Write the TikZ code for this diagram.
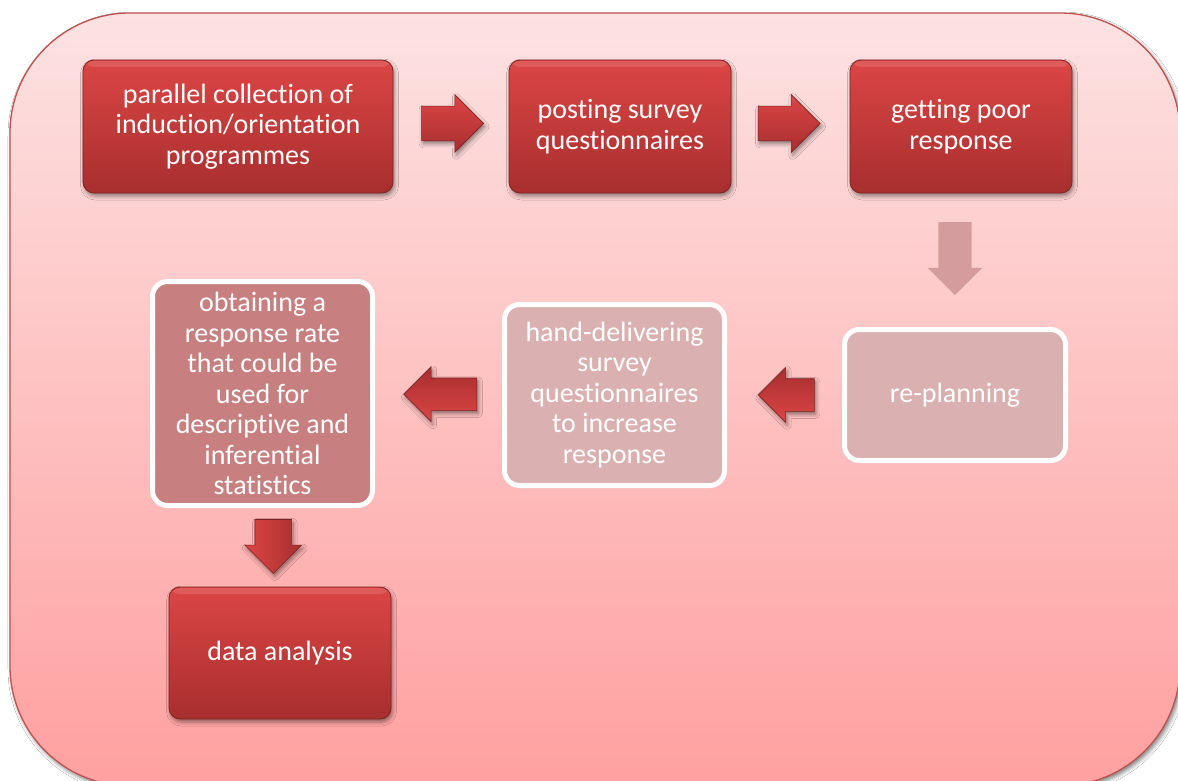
\documentclass[tikz,border=0pt]{standalone}
\usepackage{fontspec}
\setmainfont{Carlito}[Ligatures={NoCommon,NoRare,NoContextual}]
\usetikzlibrary{shapes.arrows,shadows.blur,calc}

\definecolor{outertop}{RGB}{253,226,226}
\definecolor{outerbot}{RGB}{255,160,160}
\definecolor{outeredge}{RGB}{192,80,77}
\definecolor{redtop}{RGB}{219,70,69}
\definecolor{redbot}{RGB}{168,46,46}
\definecolor{rededge}{RGB}{125,35,35}
\definecolor{palefill}{RGB}{219,176,177}
\definecolor{obtfill}{RGB}{199,127,127}
\definecolor{fadearrow}{RGB}{212,156,157}

\tikzset{
  boxtext/.style={font=\fontsize{28bp}{30.5bp}\selectfont, text=white, align=center},
  softshadow/.style={blur shadow={shadow xshift=1.5bp, shadow yshift=-3bp,
      shadow blur radius=4bp, shadow opacity=45}},
  redbox/.style={boxtext, rectangle, rounded corners=11bp, draw=rededge,
      line width=0.8bp, top color=redtop, bottom color=redbot, softshadow,
      inner sep=0pt,
      path picture={\fill[white, opacity=0.12]
        ([yshift=-1bp]path picture bounding box.north west) rectangle
        ([yshift=-7bp]path picture bounding box.north east);}},
  palebox/.style={boxtext, rectangle, rounded corners=15bp, draw=white,
      line width=5bp, fill=palefill, inner sep=0pt},
  obtbox/.style={palebox, fill=obtfill},
  % shaft width = 2 * inner ysep, head width = shaft + 2 * head extend
  redarrow/.style={single arrow, draw=rededge, line width=0.6bp,
      top color=redtop, bottom color=redbot, softshadow, inner xsep=0pt},
  palearrow/.style={single arrow, fill=fadearrow, inner xsep=0pt}
}

\begin{document}
\begin{tikzpicture}[x=1bp,y=-1bp]
  \useasboundingbox (0,0) rectangle (1178,781);
  \clip (0,0) rectangle (1178,781);
  \fill[white] (0,0) rectangle (1178,781);

  % outer panel
  \path[draw=outeredge, line width=1.3bp, top color=outertop, bottom color=outerbot,
        rounded corners=120bp, blur shadow={shadow xshift=2bp, shadow yshift=-3bp,
        shadow blur radius=4bp, shadow opacity=50}]
        (10,13) rectangle (1180,786);

  % first row
  \node[redbox, minimum width=310bp, minimum height=133bp] (collect) at (238,126.5)
    {parallel collection of\\induction/orientation\\programmes};
  \node[redbox, minimum width=222bp, minimum height=133bp] (posting) at (620,126.5)
    {posting survey\\questionnaires};
  \node[redbox, minimum width=222bp, minimum height=133bp] (poor) at (961,126.5)
    {getting poor\\response};

  % second row
  \node[palebox, minimum width=221bp, minimum height=131bp] (replan) at (955,395)
    {re-planning};
  \node[palebox, minimum width=220bp, minimum height=181bp] (hand) at (614.5,395)
    {hand-delivering\\survey\\questionnaires\\to increase\\response};
  \node[obtbox, minimum width=220bp, minimum height=224bp] (obtain) at (262.5,393.5)
    {obtaining a\\response rate\\that could be\\used for\\descriptive and\\inferential\\statistics};

  % last step
  \node[redbox, minimum width=222bp, minimum height=132bp] (data) at (280,653)
    {data analysis};

  % block arrows between the steps
  \node[redarrow, minimum height=62bp, inner ysep=17bp,
        single arrow head extend=11.5bp] (a1)
        at ($(collect.east)!0.5!(posting.west)+(-7,-3)$) {};
  \node[redarrow, minimum height=62bp, inner ysep=17bp,
        single arrow head extend=11.5bp] (a2)
        at ($(posting.east)!0.5!(poor.west)+(-10,-3)$) {};
  \node[palearrow, rotate=-90, minimum height=73bp, inner ysep=16.5bp,
        single arrow head extend=10.5bp] (a3)
        at ($(poor.south)!0.5!(replan.north)+(-3,-10)$) {};
  \node[redarrow, rotate=180, shading angle=180, minimum height=56bp, inner ysep=16bp,
        single arrow head extend=11bp] (a4)
        at ($(replan.west)!0.5!(hand.east)+(10,0)$) {};
  \node[redarrow, rotate=180, shading angle=180, minimum height=73bp, inner ysep=16bp,
        single arrow head extend=11bp] (a5)
        at ($(hand.west)!0.5!(obtain.east)+(10,0)$) {};
  \node[redarrow, rotate=-90, shading angle=90, minimum height=54bp, inner ysep=18bp,
        single arrow head extend=10bp] (a6)
        at ($(obtain.south)!0.5!(data.north)+(2,-10)$) {};
\end{tikzpicture}
\end{document}
